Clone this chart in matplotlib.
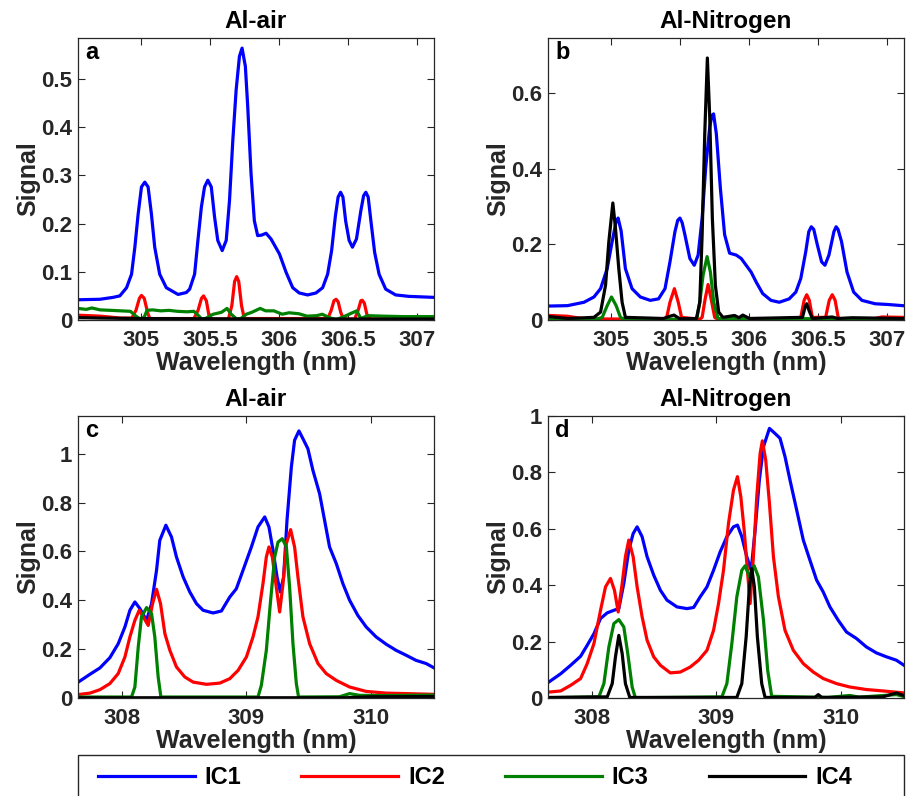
import matplotlib
matplotlib.use("Agg")
import matplotlib.pyplot as plt
from matplotlib.patches import Rectangle

plt.rcParams['font.family'] = ['Liberation Sans', 'DejaVu Sans']
plt.rcParams['font.weight'] = 'bold'

# ---------------- panel a: Al-air, 305 nm region ----------------
a_ic1_x = [304.542, 304.699, 304.795, 304.843, 304.892, 304.928, 304.952, 304.976, 305.000, 305.024,
           305.048, 305.072, 305.096, 305.132, 305.180, 305.265, 305.325, 305.349, 305.385, 305.409,
           305.434, 305.457, 305.481, 305.506, 305.530, 305.553, 305.585, 305.614, 305.638, 305.662,
           305.686, 305.710, 305.729, 305.753, 305.770, 305.794, 305.818, 305.842, 305.870, 305.903,
           305.939, 306.000, 306.048, 306.096, 306.144, 306.204, 306.264, 306.313, 306.349, 306.378,
           306.405, 306.425, 306.443, 306.460, 306.480, 306.505, 306.529, 306.558, 306.590, 306.610,
           306.626, 306.643, 306.665, 306.690, 306.722, 306.770, 306.842, 306.939, 307.115]
a_ic1_y = [0.042, 0.043, 0.047, 0.050, 0.067, 0.095, 0.151, 0.220, 0.276, 0.286,
           0.276, 0.220, 0.151, 0.095, 0.067, 0.053, 0.057, 0.064, 0.095, 0.165,
           0.234, 0.276, 0.290, 0.276, 0.213, 0.165, 0.144, 0.165, 0.248, 0.373,
           0.477, 0.547, 0.564, 0.526, 0.443, 0.304, 0.206, 0.175, 0.176, 0.180,
           0.168, 0.137, 0.099, 0.067, 0.056, 0.052, 0.056, 0.067, 0.095, 0.144,
           0.215, 0.255, 0.265, 0.255, 0.205, 0.165, 0.151, 0.168, 0.227, 0.258,
           0.265, 0.255, 0.200, 0.140, 0.095, 0.064, 0.052, 0.049, 0.047]

a_ic2_x = [304.54, 304.70, 304.85, 304.93, 304.96, 304.985, 305.0, 305.02, 305.045, 305.06,
           305.38, 305.41, 305.435, 305.45, 305.47, 305.49, 305.51, 305.63, 305.655, 305.675,
           305.69, 305.705, 305.725, 305.745, 306.35, 306.375, 306.395, 306.41, 306.425, 306.445,
           306.465, 306.545, 306.57, 306.59, 306.60, 306.615, 306.635, 306.66, 307.115]
a_ic2_y = [0.010, 0.008, 0.004, 0.004, 0.020, 0.045, 0.051, 0.045, 0.015, 0.003,
           0.003, 0.020, 0.045, 0.050, 0.040, 0.008, 0.002, 0.002, 0.030, 0.080,
           0.090, 0.080, 0.030, 0.003, 0.003, 0.020, 0.040, 0.043, 0.038, 0.015,
           0.002, 0.002, 0.020, 0.040, 0.041, 0.035, 0.010, 0.002, 0.002]

a_ic3_x = [304.54, 304.60, 304.64, 304.70, 304.78, 304.85, 304.92, 304.96, 304.99, 305.02,
           305.04, 305.08, 305.14, 305.20, 305.26, 305.33, 305.38, 305.41, 305.44, 305.47,
           305.52, 305.58, 305.62, 305.65, 305.69, 305.72, 305.76, 305.80, 305.86, 305.90,
           305.96, 306.02, 306.07, 306.14, 306.20, 306.27, 306.31, 306.36, 306.41, 306.46,
           306.52, 306.56, 306.59, 306.64, 306.75, 306.90, 307.115]
a_ic3_y = [0.024, 0.022, 0.025, 0.021, 0.020, 0.019, 0.018, 0.008, 0.002, 0.006,
           0.020, 0.021, 0.019, 0.020, 0.018, 0.017, 0.018, 0.010, 0.001, 0.004,
           0.012, 0.016, 0.024, 0.012, 0.002, 0.003, 0.012, 0.016, 0.024, 0.019,
           0.019, 0.012, 0.015, 0.013, 0.008, 0.009, 0.012, 0.005, 0.001, 0.006,
           0.014, 0.019, 0.003, 0.009, 0.008, 0.007, 0.007]

a_ic4_x = [304.54, 304.70, 305.0, 306.0, 307.115]
a_ic4_y = [0.005, 0.004, 0.003, 0.002, 0.002]

# ---------------- panel b: Al-Nitrogen, 305 nm region ----------------
b_ic1_x = [304.549, 304.681, 304.801, 304.873, 304.921, 304.969, 305.005, 305.034, 305.048, 305.070,
           305.101, 305.149, 305.209, 305.281, 305.341, 305.388, 305.424, 305.460, 305.480, 305.496,
           305.512, 305.532, 305.568, 305.600, 305.628, 305.657, 305.683, 305.712, 305.728, 305.740,
           305.760, 305.789, 305.820, 305.856, 305.904, 305.940, 305.976, 306.012, 306.048, 306.096,
           306.156, 306.216, 306.288, 306.336, 306.372, 306.408, 306.430, 306.448, 306.466, 306.492,
           306.523, 306.547, 306.576, 306.612, 306.628, 306.642, 306.667, 306.707, 306.755, 306.815,
           306.911, 307.007, 307.110]
b_ic1_y = [0.037, 0.038, 0.047, 0.061, 0.083, 0.136, 0.208, 0.262, 0.270, 0.236,
           0.136, 0.083, 0.061, 0.052, 0.056, 0.083, 0.154, 0.234, 0.264, 0.270,
           0.258, 0.226, 0.163, 0.145, 0.172, 0.270, 0.404, 0.511, 0.542, 0.546,
           0.493, 0.350, 0.226, 0.177, 0.172, 0.163, 0.145, 0.127, 0.101, 0.070,
           0.052, 0.047, 0.056, 0.074, 0.110, 0.181, 0.234, 0.247, 0.240, 0.199,
           0.154, 0.145, 0.172, 0.234, 0.247, 0.240, 0.208, 0.127, 0.074, 0.052,
           0.043, 0.041, 0.038]

b_ic2_x = [304.549, 304.681, 304.801, 305.38, 305.400, 305.424, 305.456, 305.484, 305.508, 305.64,
           305.657, 305.679, 305.700, 305.722, 305.748, 305.77, 306.35, 306.372, 306.396, 306.415,
           306.434, 306.456, 306.552, 306.578, 306.600, 306.621, 306.643, 306.66, 306.90, 306.959,
           307.110]
b_ic2_y = [0.012, 0.010, 0.003, 0.002, 0.007, 0.047, 0.083, 0.047, 0.007, 0.002,
           0.007, 0.056, 0.094, 0.056, 0.007, 0.002, 0.002, 0.007, 0.052, 0.067,
           0.052, 0.007, 0.007, 0.052, 0.067, 0.052, 0.007, 0.002, 0.003, 0.008,
           0.007]

b_ic3_x = [304.549, 304.90, 304.933, 304.969, 305.000, 305.034, 305.065, 305.09, 305.60, 305.620,
           305.640, 305.664, 305.693, 305.717, 305.741, 305.772, 307.110]
b_ic3_y = [0.003, 0.003, 0.007, 0.038, 0.061, 0.038, 0.007, 0.002, 0.002, 0.007,
           0.047, 0.119, 0.168, 0.127, 0.047, 0.004, 0.003]

b_ic4_x = [304.549, 304.681, 304.873, 304.921, 304.957, 304.981, 305.010, 305.029, 305.053, 305.077,
           305.101, 305.376, 305.424, 305.453, 305.496, 305.616, 305.640, 305.657, 305.676, 305.695,
           305.712, 305.731, 305.753, 305.777, 305.808, 305.892, 305.923, 305.952, 306.000, 306.384,
           306.403, 306.415, 306.432, 306.456, 306.600, 306.640, 306.743, 307.110]
b_ic4_y = [0.009, 0.004, 0.007, 0.021, 0.092, 0.208, 0.310, 0.243, 0.136, 0.047,
           0.007, 0.004, 0.010, 0.013, 0.003, 0.004, 0.047, 0.226, 0.493, 0.694,
           0.538, 0.270, 0.092, 0.021, 0.007, 0.012, 0.006, 0.013, 0.004, 0.007,
           0.034, 0.043, 0.025, 0.004, 0.008, 0.004, 0.006, 0.004]

# ---------------- panel c: Al-air, 309 nm region ----------------
c_ic1_x = [307.652, 307.746, 307.826, 307.906, 307.973, 308.027, 308.067, 308.107, 308.147, 308.201,
           308.241, 308.281, 308.307, 308.356, 308.401, 308.441, 308.495, 308.548, 308.602, 308.655,
           308.735, 308.802, 308.869, 308.922, 308.976, 309.043, 309.096, 309.150, 309.184, 309.217,
           309.249, 309.275, 309.302, 309.329, 309.364, 309.390, 309.425, 309.463, 309.497, 309.537,
           309.591, 309.631, 309.671, 309.725, 309.778, 309.832, 309.898, 309.965, 310.045, 310.126,
           310.206, 310.286, 310.366, 310.447, 310.508]
c_ic1_y = [0.065, 0.097, 0.123, 0.165, 0.222, 0.291, 0.359, 0.393, 0.366, 0.318,
           0.386, 0.523, 0.645, 0.707, 0.659, 0.577, 0.495, 0.434, 0.386, 0.359,
           0.348, 0.356, 0.413, 0.447, 0.523, 0.618, 0.700, 0.741, 0.700, 0.604,
           0.495, 0.434, 0.495, 0.727, 0.945, 1.055, 1.093, 1.055, 1.020, 0.932,
           0.836, 0.727, 0.618, 0.550, 0.468, 0.400, 0.338, 0.291, 0.250, 0.220,
           0.195, 0.175, 0.154, 0.141, 0.124]

c_ic2_x = [307.652, 307.746, 307.826, 307.906, 307.973, 308.027, 308.067, 308.107, 308.142, 308.174,
           308.214, 308.249, 308.281, 308.313, 308.348, 308.388, 308.441, 308.508, 308.575, 308.682,
           308.789, 308.869, 308.936, 309.003, 309.056, 309.096, 309.136, 309.163, 309.184, 309.211,
           309.243, 309.270, 309.297, 309.324, 309.358, 309.390, 309.417, 309.457, 309.511, 309.578,
           309.644, 309.725, 309.832, 309.965, 310.126, 310.286, 310.508]
c_ic2_y = [0.014, 0.020, 0.034, 0.059, 0.100, 0.168, 0.250, 0.318, 0.359, 0.332,
           0.297, 0.386, 0.445, 0.386, 0.263, 0.195, 0.127, 0.086, 0.065, 0.056,
           0.061, 0.079, 0.113, 0.168, 0.250, 0.332, 0.468, 0.577, 0.618, 0.577,
           0.454, 0.352, 0.468, 0.632, 0.689, 0.618, 0.495, 0.332, 0.222, 0.141,
           0.100, 0.072, 0.045, 0.027, 0.020, 0.018, 0.015]

c_ic3_x = [307.652, 308.080, 308.107, 308.134, 308.160, 308.201, 308.241, 308.267, 308.294, 308.316,
           309.096, 309.123, 309.163, 309.195, 309.230, 309.257, 309.291, 309.324, 309.350, 309.377,
           309.404, 309.422, 309.750, 309.832, 309.910, 310.100, 310.508]
c_ic3_y = [0.004, 0.004, 0.045, 0.209, 0.332, 0.370, 0.345, 0.250, 0.086, 0.004,
           0.004, 0.052, 0.195, 0.386, 0.577, 0.638, 0.652, 0.618, 0.454, 0.222,
           0.059, 0.004, 0.005, 0.018, 0.011, 0.010, 0.012]

c_ic4_x = [307.652, 309.800, 310.000, 310.508]
c_ic4_y = [0.001, 0.001, 0.005, 0.006]

# ---------------- panel d: Al-Nitrogen, 309 nm region ----------------
d_ic1_x = [307.658, 307.752, 307.832, 307.912, 307.965, 308.019, 308.072, 308.126, 308.179, 308.219,
           308.259, 308.299, 308.334, 308.366, 308.406, 308.446, 308.499, 308.553, 308.606, 308.686,
           308.766, 308.820, 308.873, 308.927, 308.980, 309.033, 309.087, 309.140, 309.172, 309.207,
           309.247, 309.282, 309.314, 309.348, 309.381, 309.429, 309.474, 309.514, 309.554, 309.594,
           309.648, 309.701, 309.754, 309.808, 309.861, 309.915, 309.981, 310.048, 310.128, 310.208,
           310.288, 310.369, 310.449, 310.510]
d_ic1_y = [0.057, 0.086, 0.116, 0.148, 0.187, 0.228, 0.282, 0.302, 0.311, 0.317,
           0.406, 0.524, 0.583, 0.607, 0.572, 0.501, 0.436, 0.382, 0.347, 0.323,
           0.317, 0.321, 0.359, 0.394, 0.453, 0.518, 0.572, 0.607, 0.613, 0.572,
           0.501, 0.453, 0.595, 0.773, 0.891, 0.956, 0.938, 0.921, 0.856, 0.773,
           0.666, 0.560, 0.489, 0.418, 0.376, 0.323, 0.276, 0.234, 0.211, 0.181,
           0.160, 0.146, 0.134, 0.116]

d_ic2_x = [307.658, 307.752, 307.832, 307.912, 307.965, 308.019, 308.072, 308.112, 308.152, 308.184,
           308.214, 308.246, 308.272, 308.299, 308.334, 308.366, 308.406, 308.446, 308.499, 308.553,
           308.633, 308.713, 308.793, 308.860, 308.927, 308.980, 309.020, 309.060, 309.100, 309.140,
           309.172, 309.199, 309.226, 309.252, 309.274, 309.300, 309.327, 309.354, 309.372, 309.399,
           309.429, 309.461, 309.501, 309.554, 309.621, 309.701, 309.781, 309.861, 309.968, 310.075,
           310.208, 310.342, 310.510]
d_ic2_y = [0.021, 0.025, 0.045, 0.069, 0.122, 0.193, 0.311, 0.394, 0.424, 0.382,
           0.305, 0.406, 0.501, 0.560, 0.501, 0.394, 0.288, 0.205, 0.146, 0.116,
           0.089, 0.092, 0.110, 0.134, 0.169, 0.240, 0.335, 0.453, 0.619, 0.737,
           0.785, 0.714, 0.595, 0.453, 0.335, 0.501, 0.714, 0.867, 0.912, 0.844,
           0.690, 0.501, 0.359, 0.240, 0.169, 0.122, 0.092, 0.069, 0.051, 0.039,
           0.030, 0.025, 0.018]

d_ic3_x = [307.658, 308.059, 308.099, 308.139, 308.179, 308.219, 308.259, 308.291, 308.326, 308.352,
           309.047, 309.087, 309.127, 309.167, 309.207, 309.234, 309.268, 309.306, 309.340, 309.381,
           309.415, 309.447, 309.900, 310.075, 310.150, 310.449, 310.510]
d_ic3_y = [0.001, 0.004, 0.051, 0.181, 0.264, 0.278, 0.252, 0.157, 0.039, 0.001,
           0.004, 0.051, 0.193, 0.359, 0.453, 0.469, 0.430, 0.469, 0.430, 0.276,
           0.098, 0.006, 0.002, 0.009, 0.003, 0.012, 0.005]

d_ic4_x = [307.658, 308.126, 308.166, 308.192, 308.219, 308.246, 308.272, 308.307, 309.167, 309.207,
           309.242, 309.268, 309.287, 309.308, 309.332, 309.367, 309.394, 309.794, 309.821, 309.850,
           310.340, 310.449, 310.510]
d_ic4_y = [0.002, 0.004, 0.051, 0.146, 0.222, 0.157, 0.051, 0.002, 0.002, 0.051,
           0.217, 0.394, 0.459, 0.394, 0.217, 0.051, 0.002, 0.002, 0.012, 0.002,
           0.004, 0.018, 0.008]

titles = ["Al-air", "Al-Nitrogen", "Al-air", "Al-Nitrogen"]
letters = ["a", "b", "c", "d"]
legend_labels = ["IC1", "IC2", "IC3", "IC4"]
colors = ["#0000ff", "#ff0000", "#008000", "#000000"]

panels = [
    [(a_ic1_x, a_ic1_y), (a_ic2_x, a_ic2_y), (a_ic3_x, a_ic3_y), (a_ic4_x, a_ic4_y)],
    [(b_ic1_x, b_ic1_y), (b_ic2_x, b_ic2_y), (b_ic3_x, b_ic3_y), (b_ic4_x, b_ic4_y)],
    [(c_ic1_x, c_ic1_y), (c_ic2_x, c_ic2_y), (c_ic3_x, c_ic3_y), (c_ic4_x, c_ic4_y)],
    [(d_ic1_x, d_ic1_y), (d_ic2_x, d_ic2_y), (d_ic3_x, d_ic3_y), (d_ic4_x, d_ic4_y)],
]
xlims = [(304.54, 307.12), (304.54, 307.12), (307.65, 310.51), (307.65, 310.51)]
ylims = [(0, 0.585), (0, 0.747), (0, 1.154), (0, 1.0)]
xticks_ab = [305, 305.5, 306, 306.5, 307]
xticks_cd = [308, 309, 310]
xticks = [xticks_ab, xticks_ab, xticks_cd, xticks_cd]
yticks = [[0, 0.1, 0.2, 0.3, 0.4, 0.5], [0, 0.2, 0.4, 0.6],
          [0, 0.2, 0.4, 0.6, 0.8, 1], [0, 0.2, 0.4, 0.6, 0.8, 1]]

W, H = 907, 796
fig = plt.figure(figsize=(W / 100, H / 100), dpi=100)

# axes boxes in pixel coords (left, top, right, bottom)
boxes = [(78, 38, 434, 320), (548, 38, 904, 320), (78, 416, 434, 698), (548, 416, 904, 698)]
grey = "#262626"

lines = []
for i, (l, t, r, b) in enumerate(boxes):
    ax = fig.add_axes([l / W, 1 - b / H, (r - l) / W, (b - t) / H])
    for k, (xs, ys) in enumerate(panels[i]):
        ln, = ax.plot(xs, ys, color=colors[k], lw=2.3, solid_joinstyle="round")
        if i == 0:
            lines.append(ln)
    ax.set_xlim(*xlims[i])
    ax.set_ylim(*ylims[i])
    ax.set_xticks(xticks[i])
    ax.set_xticklabels([f"{v:g}" for v in xticks[i]])
    ax.set_yticks(yticks[i])
    ax.set_yticklabels([f"{v:g}" for v in yticks[i]])
    ax.tick_params(direction="in", length=5, width=0.8, top=True, right=True,
                   labelsize=16, colors=grey, pad=4)
    ax.tick_params(axis="x", pad=7)
    for s in ax.spines.values():
        s.set_color(grey)
        s.set_linewidth(0.9)
    ax.set_xlabel("Wavelength (nm)", fontsize=18, fontweight="bold", color=grey, labelpad=0.5)
    ax.set_ylabel("Signal", fontsize=18, fontweight="bold", color=grey, labelpad=1)
    ax.set_title(titles[i], fontsize=17.5, fontweight="bold", pad=7)
    ax.text(0.02, 0.99, letters[i], transform=ax.transAxes, fontsize=17,
            fontweight="bold", va="top", ha="left")

# legend box along the bottom edge
fig.add_artist(Rectangle((78 / W, -0.05), 826 / W, 0.05 + 41 / H, transform=fig.transFigure,
                         fill=False, edgecolor=grey, linewidth=1.0))
fig.legend(lines, legend_labels, loc="center left", bbox_to_anchor=(98 / W, 1 - 778 / H),
           ncol=4, frameon=False, handlelength=4.1, handletextpad=0.42,
           columnspacing=2.54, borderpad=0, borderaxespad=0,
           prop={"weight": "bold", "size": 17})

fig.savefig("out.png", dpi=100)
